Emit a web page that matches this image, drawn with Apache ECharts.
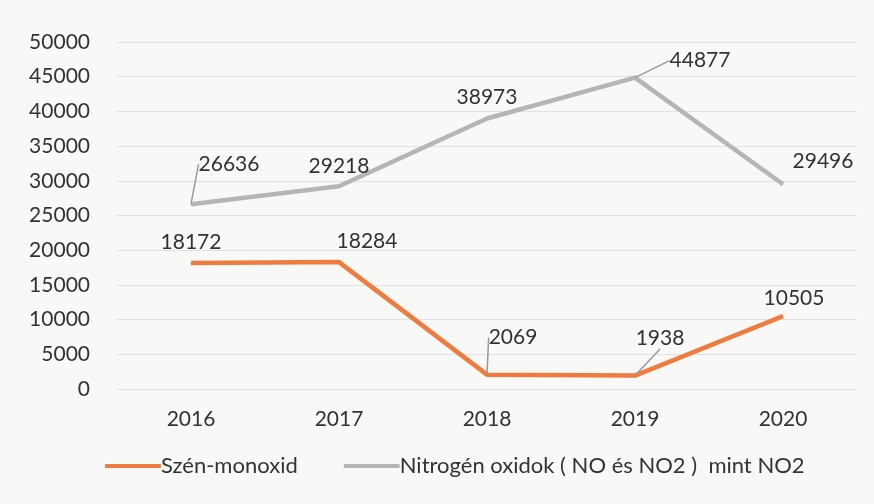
<!DOCTYPE html>
<html>
<head>
<meta charset="utf-8">
<script src="https://cdn.jsdelivr.net/npm/echarts@6/dist/echarts.min.js"></script>
<style>
  html, body { margin: 0; padding: 0; background: #f8f8f6; }
  #main { width: 874px; height: 504px; }
</style>
</head>
<body>
<div id="main"></div>
<script>
// adatok
var years = ['2016', '2017', '2018', '2019', '2020'];
var szenMonoxid = [18172, 18284, 2069, 1938, 10505];
var nitrogenOxidok = [26636, 29218, 38973, 44877, 29496];
var yTicks = [0, 5000, 10000, 15000, 20000, 25000, 30000, 35000, 40000, 45000, 50000];

// címke eltolások (dx, dy) sorozatonként, és hogy kell-e vezetővonal
var labelShift = [
    [[0, -2], [28, -2], [26, -18], [25, -18], [11, 1]],
    [[38, -21], [0, -1], [0, -2], [65, 2], [40, -4]]
];
var leader = [
    [false, false, true, true, false],
    [true, false, false, true, false]
];

function withLeader(values, s) {
    return values.map(function (v, i) {
        return { value: v, labelLine: { show: leader[s][i] } };
    });
}

var fontFam = 'Lato, "Open Sans", sans-serif';
var chart = echarts.init(document.getElementById('main'));
chart.setOption({
    backgroundColor: '#f8f8f6',
    animation: false,
    grid: { left: 117, right: 17, top: 42, bottom: 115 },
    legend: {
        bottom: 22,
        left: 100,
        itemWidth: 56,
        itemHeight: 4,
        itemGap: 46,
        icon: 'roundRect',
        textStyle: { fontFamily: fontFam, fontSize: 22, color: '#333', padding: [0, 0, 0, -5] },
        data: ['Szén-monoxid', 'Nitrogén oxidok ( NO és NO2 )  mint NO2']
    },
    xAxis: {
        type: 'category',
        data: years,
        boundaryGap: true,
        axisLine: { show: false },
        axisTick: { show: false },
        axisLabel: { margin: 20, fontFamily: fontFam, fontSize: 21, color: '#333' }
    },
    yAxis: {
        type: 'value',
        min: yTicks[0],
        max: yTicks[yTicks.length - 1],
        interval: 5000,
        axisLine: { show: false },
        axisTick: { show: false },
        axisLabel: {
            margin: 27, fontFamily: fontFam, fontSize: 21, color: '#333',
            formatter: function (v) { return String(v); }
        },
        splitLine: { lineStyle: { color: '#e2e2e0', width: 1 } }
    },
    labelLayout: function (params) {
        var d = labelShift[params.seriesIndex][params.dataIndex];
        return { dx: d[0], dy: d[1] };
    },
    series: [{
        name: 'Szén-monoxid',
        type: 'line',
        data: withLeader(szenMonoxid, 0),
        symbol: 'circle',
        symbolSize: 1,
        showSymbol: true,
        lineStyle: { color: '#ef7b3e', width: 4.5, join: 'round' },
        itemStyle: { color: '#ef7b3e' },
        label: {
            show: true, position: 'top', distance: 8,
            fontFamily: fontFam, fontSize: 21, color: '#333'
        },
        labelLine: { length2: 0, lineStyle: { color: '#9a9a9a', width: 1.5 } }
    }, {
        name: 'Nitrogén oxidok ( NO és NO2 )  mint NO2',
        type: 'line',
        data: withLeader(nitrogenOxidok, 1),
        symbol: 'circle',
        symbolSize: 1,
        showSymbol: true,
        lineStyle: { color: '#b5b5b5', width: 4.5, join: 'round' },
        itemStyle: { color: '#b5b5b5' },
        label: {
            show: true, position: 'top', distance: 8,
            fontFamily: fontFam, fontSize: 21, color: '#333'
        },
        labelLine: { length2: 0, lineStyle: { color: '#9a9a9a', width: 1.5 } }
    }]
});
</script>
</body>
</html>
